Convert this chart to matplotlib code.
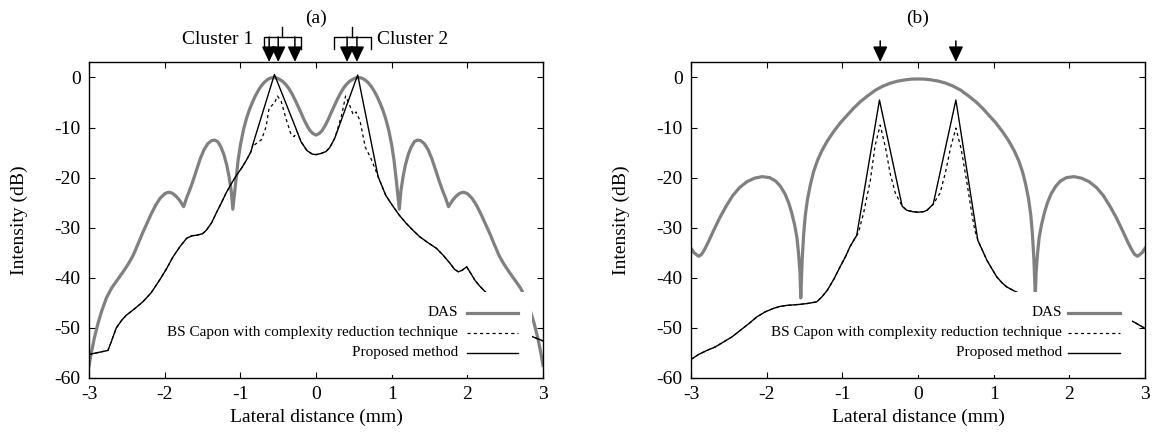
import matplotlib
matplotlib.use("Agg")
import matplotlib.pyplot as plt
from matplotlib.patches import Rectangle

plt.rcParams['font.family'] = ['Liberation Serif', 'DejaVu Serif']
plt.rcParams['font.size'] = 14
plt.rcParams['axes.unicode_minus'] = False

# ---- panel (a): two clusters of scatterers ----
das_a_x = [-3.0, -2.97, -2.93, -2.88, -2.83, -2.77, -2.7, -2.62, -2.55, -2.48, -2.42, -2.36,
           -2.3, -2.24, -2.18, -2.12, -2.06, -2.0, -1.95, -1.9, -1.85, -1.8, -1.75, -1.71,
           -1.67, -1.63, -1.58, -1.53, -1.48, -1.43, -1.38, -1.34, -1.3, -1.26, -1.22, -1.18,
           -1.15, -1.12, -1.1, -1.08, -1.06, -1.03, -1.0, -0.96, -0.92, -0.88, -0.84, -0.8,
           -0.76, -0.72, -0.68, -0.64, -0.6, -0.56, -0.52, -0.48, -0.44, -0.4, -0.36, -0.32,
           -0.28, -0.24, -0.2, -0.16, -0.12, -0.08, -0.04, 0.0,
           0.04, 0.08, 0.12, 0.16, 0.2, 0.24, 0.28, 0.32, 0.36, 0.4, 0.44, 0.48,
           0.52, 0.56, 0.6, 0.64, 0.68, 0.72, 0.76, 0.8, 0.84, 0.88, 0.92, 0.96,
           1.0, 1.03, 1.06, 1.08, 1.1, 1.12, 1.15, 1.18, 1.22, 1.26, 1.3, 1.34,
           1.38, 1.43, 1.48, 1.53, 1.58, 1.63, 1.67, 1.71, 1.75, 1.8, 1.85, 1.9,
           1.95, 2.0, 2.06, 2.12, 2.18, 2.24, 2.3, 2.36, 2.42, 2.48, 2.55, 2.62,
           2.7, 2.77, 2.83, 2.88, 2.93, 2.97, 3.0]
das_a_y = [-57.5, -55.0, -52.0, -49.0, -46.5, -44.0, -42.0, -40.3, -38.8, -37.2, -35.6, -33.5,
           -31.3, -29.3, -27.3, -25.5, -24.1, -23.2, -22.9, -23.1, -23.7, -24.6, -25.8, -24.0,
           -22.5, -20.8, -18.5, -16.2, -14.4, -13.2, -12.6, -12.5, -12.8, -13.8, -15.3, -17.5,
           -19.8, -22.8, -26.3, -23.5, -20.5, -16.5, -13.5, -10.5, -8.2, -6.4, -4.9, -3.6,
           -2.5, -1.6, -0.9, -0.4, -0.1, 0.0, -0.1, -0.4, -0.8, -1.4, -2.2, -3.2,
           -4.4, -5.7, -7.0, -8.4, -9.6, -10.6, -11.2, -11.5,
           -11.2, -10.6, -9.6, -8.4, -7.0, -5.7, -4.4, -3.2, -2.2, -1.4, -0.8, -0.4,
           -0.1, 0.0, -0.1, -0.4, -0.9, -1.6, -2.5, -3.6, -4.9, -6.4, -8.2, -10.5,
           -13.5, -16.5, -20.5, -23.5, -26.3, -22.8, -19.8, -17.5, -15.3, -13.8, -12.8, -12.5,
           -12.6, -13.2, -14.4, -16.2, -18.5, -20.8, -22.5, -24.0, -25.8, -24.6, -23.7, -23.1,
           -22.9, -23.2, -24.1, -25.5, -27.3, -29.3, -31.3, -33.5, -35.6, -37.2, -38.8, -40.3,
           -42.0, -44.0, -46.5, -49.0, -52.0, -55.0, -57.5]

prop_a_x = [-3.0, -2.75, -2.7, -2.64, -2.57, -2.51, -2.4, -2.29, -2.18, -2.07, -1.98, -1.89,
            -1.8, -1.71, -1.64, -1.58, -1.5, -1.45, -1.38, -1.32, -1.25, -1.19, -1.12, -1.05,
            -0.98, -0.92, -0.86, -0.83, -0.55, -0.25, -0.2, -0.12, -0.05, 0.0, 0.06, 0.13,
            0.18, 0.22, 0.25, 0.55, 0.82, 0.92, 1.02, 1.1, 1.19, 1.28, 1.37, 1.48, 1.59, 1.68,
            1.77, 1.83, 1.88, 1.93, 1.99, 2.04, 2.1, 2.16, 2.23, 2.35, 2.5, 2.65, 2.75, 2.85, 3.0]
prop_a_y = [-55.3, -54.5, -52.5, -50.0, -48.5, -47.5, -46.2, -44.8, -43.0, -40.5, -38.3, -35.8,
            -33.8, -32.1, -31.6, -31.5, -31.2, -30.5, -29.0, -27.1, -25.0, -23.1, -21.2, -19.5,
            -18.0, -16.5, -14.8, -13.1, 0.6, -10.8, -12.8, -14.6, -15.3, -15.4, -15.2, -14.8,
            -14.0, -12.9, -12.0, 0.5, -19.8, -23.5, -25.8, -27.5, -29.1, -30.5, -31.8, -33.0, -34.1, -35.5,
            -37.1, -38.3, -38.8, -38.5, -37.8, -39.0, -40.5, -41.6, -42.7, -44.5, -46.5, -48.8, -50.5, -51.7, -52.6]

capon_a_x = [-3.0, -2.75, -2.7, -2.64, -2.57, -2.51, -2.4, -2.29, -2.18, -2.07, -1.98, -1.89,
             -1.8, -1.71, -1.64, -1.58, -1.5, -1.45, -1.38, -1.32, -1.25, -1.19, -1.12, -1.05,
             -0.98, -0.92, -0.86, -0.83, -0.81, -0.72, -0.66, -0.62, -0.55, -0.51, -0.46, -0.4,
             -0.33, -0.29, -0.25, -0.2, -0.12, -0.05, 0.0, 0.06, 0.13, 0.18, 0.22, 0.25, 0.29,
             0.34, 0.39, 0.44, 0.49, 0.53, 0.58, 0.65, 0.72, 0.78, 0.82, 0.92, 1.02, 1.1, 1.19,
             1.28, 1.37, 1.48, 1.59, 1.68, 1.77, 1.83, 1.88, 1.93, 1.99, 2.04, 2.1, 2.16, 2.23,
             2.35, 2.5, 2.65, 2.75, 2.85, 3.0]
capon_a_y = [-55.3, -54.5, -52.5, -50.0, -48.5, -47.5, -46.2, -44.8, -43.0, -40.5, -38.3, -35.8,
             -33.8, -32.1, -31.6, -31.5, -31.2, -30.5, -29.0, -27.1, -25.0, -23.1, -21.2, -19.5,
             -18.0, -16.5, -14.8, -13.1, -13.4, -12.4, -9.8, -6.1, -5.1, -3.7, -4.8, -8.1,
             -11.4, -11.8, -10.8, -12.8, -14.6, -15.3, -15.4, -15.2, -14.8, -14.0, -12.9, -12.0, -10.0,
             -7.4, -3.7, -5.4, -7.4, -6.9, -8.6, -13.9, -16.0, -18.2, -19.8, -23.5, -25.8, -27.5, -29.1,
             -30.5, -31.8, -33.0, -34.1, -35.5, -37.1, -38.3, -38.8, -38.5, -37.8, -39.0, -40.5, -41.6, -42.7,
             -44.5, -46.5, -48.8, -50.5, -51.7, -52.6]

# ---- panel (b): two point targets ----
das_b_x = [-3.0, -2.96, -2.9, -2.86, -2.82, -2.77, -2.7, -2.62, -2.54, -2.45, -2.36, -2.26,
           -2.16, -2.06, -1.96, -1.88, -1.82, -1.76, -1.71, -1.67, -1.63, -1.6, -1.58, -1.56,
           -1.55, -1.53, -1.51, -1.49, -1.46, -1.42, -1.38, -1.33, -1.27, -1.2, -1.12, -1.03,
           -0.94, -0.85, -0.76, -0.66, -0.56, -0.46, -0.36, -0.26, -0.16, -0.08, 0.0,
           0.08, 0.16, 0.26, 0.36, 0.46, 0.56, 0.66, 0.76, 0.85, 0.94, 1.03, 1.12,
           1.2, 1.27, 1.33, 1.38, 1.42, 1.46, 1.49, 1.51, 1.53, 1.55, 1.56, 1.58,
           1.6, 1.63, 1.67, 1.71, 1.76, 1.82, 1.88, 1.96, 2.06, 2.16, 2.26, 2.36,
           2.45, 2.54, 2.62, 2.7, 2.77, 2.82, 2.86, 2.9, 2.96, 3.0]
das_b_y = [-34.1, -35.0, -35.7, -35.3, -34.3, -32.8, -30.5, -28.0, -25.8, -23.6, -22.0, -20.8,
           -20.1, -19.8, -20.0, -20.7, -21.7, -23.2, -25.0, -27.0, -29.5, -32.0, -35.0, -39.0,
           -44.0, -36.0, -31.0, -27.5, -24.2, -21.2, -18.8, -16.6, -14.6, -12.7, -10.9, -9.1,
           -7.6, -6.1, -4.8, -3.6, -2.5, -1.7, -1.1, -0.7, -0.45, -0.32, -0.3,
           -0.32, -0.45, -0.7, -1.1, -1.7, -2.5, -3.6, -4.8, -6.1, -7.6, -9.1, -10.9,
           -12.7, -14.6, -16.6, -18.8, -21.2, -24.2, -27.5, -31.0, -36.0, -43.5, -39.0, -35.0,
           -32.0, -29.5, -27.0, -25.0, -23.2, -21.7, -20.7, -20.0, -19.8, -20.1, -20.8, -22.0,
           -23.6, -25.8, -28.0, -30.5, -32.8, -34.3, -35.3, -35.7, -35.0, -34.1]

prop_b_x = [-3.0, -2.9, -2.79, -2.68, -2.57, -2.46, -2.35, -2.24, -2.13, -2.02, -1.91, -1.82,
            -1.73, -1.56, -1.45, -1.34, -1.27, -1.2, -1.11, -1.03, -0.96, -0.9, -0.81, -0.51,
            -0.21, -0.15, -0.07, 0.0, 0.07, 0.12, 0.2, 0.5, 0.79, 0.85, 0.91, 0.98, 1.04, 1.11,
            1.17, 1.28, 1.5, 1.8, 2.1, 2.4, 2.6, 2.75, 2.85, 3.0]
prop_b_y = [-56.3, -55.3, -54.5, -53.8, -52.8, -51.8, -50.5, -49.2, -47.8, -46.8, -46.1, -45.7,
            -45.5, -45.3, -45.1, -44.8, -43.8, -42.5, -40.2, -37.8, -35.8, -33.8, -31.5, -4.5,
            -25.7, -26.5, -26.8, -26.9, -26.8, -26.5, -25.3, -4.5, -32.5, -34.5, -36.5, -38.3, -39.8, -41.0,
            -41.8, -42.7, -44.3, -45.5, -46.0, -46.5, -47.2, -48.2, -48.8, -50.1]

capon_b_x = [-3.0, -2.9, -2.79, -2.68, -2.57, -2.46, -2.35, -2.24, -2.13, -2.02, -1.91, -1.82,
             -1.73, -1.56, -1.45, -1.34, -1.27, -1.2, -1.11, -1.03, -0.96, -0.9, -0.81, -0.79,
             -0.72, -0.63, -0.57, -0.5, -0.43, -0.37, -0.3, -0.21, -0.15, -0.07, 0.0, 0.07, 0.12,
             0.2, 0.29, 0.36, 0.43, 0.5, 0.57, 0.64, 0.71, 0.75, 0.79, 0.85, 0.91, 0.98, 1.04,
             1.11, 1.17, 1.28, 1.5, 1.8, 2.1, 2.4, 2.6, 2.75, 2.85, 3.0]
capon_b_y = [-56.3, -55.3, -54.5, -53.8, -52.8, -51.8, -50.5, -49.2, -47.8, -46.8, -46.1, -45.7,
             -45.5, -45.3, -45.1, -44.8, -43.8, -42.5, -40.2, -37.8, -35.8, -33.8, -31.5, -31.1,
             -27.1, -20.5, -13.8, -9.5, -14.0, -19.1, -23.1, -25.7, -26.5, -26.8, -26.9, -26.8, -26.5,
             -25.3, -23.1, -19.1, -14.0, -10.1, -14.3, -20.5, -27.1, -30.5, -32.5, -34.5, -36.5, -38.3, -39.8,
             -41.0, -41.8, -42.7, -44.3, -45.5, -46.0, -46.5, -47.2, -48.2, -48.8, -50.1]

# target positions marked by arrows above the plots
cluster1_x = [-0.62, -0.50, -0.28]
cluster2_x = [0.41, 0.54]
targets_b_x = [-0.5, 0.5]

legend_labels = ["DAS", "BS Capon with complexity reduction technique", "Proposed method"]

gray = "#808080"
dash = (0, (2.5, 2.5))
fig = plt.figure(figsize=(11.55, 4.41), dpi=100)
ax_a = fig.add_axes([0.0771, 0.1429, 0.3931, 0.7166])
ax_b = fig.add_axes([0.5983, 0.1429, 0.3931, 0.7166])

ax_a.plot(das_a_x, das_a_y, color=gray, lw=2.3, zorder=2)
ax_a.plot(capon_a_x, capon_a_y, color="black", lw=0.9, ls=dash, zorder=2)
ax_a.plot(prop_a_x, prop_a_y, color="black", lw=1.0, zorder=2)

ax_b.plot(das_b_x, das_b_y, color=gray, lw=2.3, zorder=2)
ax_b.plot(capon_b_x, capon_b_y, color="black", lw=0.9, ls=dash, zorder=2)
ax_b.plot(prop_b_x, prop_b_y, color="black", lw=1.0, zorder=2)


def draw_key(ax, box_left, box_right, text_right, line_x0, line_x1):
    # opaque key box, hides the curves running behind it
    ax.add_patch(Rectangle((box_left, -59.5), box_right - box_left, 16.7,
                           facecolor="white", edgecolor="none", zorder=3))
    rows = [-47, -51, -55]
    styles = [dict(color=gray, lw=2.3), dict(color="black", lw=0.9, ls=dash),
              dict(color="black", lw=1.0)]
    for label, row, st in zip(legend_labels, rows, styles):
        ax.text(text_right, row, label, ha="right", va="center", fontsize=11, zorder=4)
        ax.plot([line_x0, line_x1], [row, row], zorder=4, **st)


draw_key(ax_a, 1.0, 2.85, 1.88, 2.0, 2.67)
draw_key(ax_b, -0.3, 2.83, 1.90, 1.98, 2.67)

for ax, title in [(ax_a, "(a)"), (ax_b, "(b)")]:
    ax.set_xlim(-3, 3)
    ax.set_ylim(-60, 3.1)
    ax.set_xticks([-3, -2, -1, 0, 1, 2, 3])
    ax.set_yticks([0, -10, -20, -30, -40, -50, -60])
    ax.tick_params(direction="in", length=4, width=0.8, top=True, right=True, labelsize=14, pad=6)
    for sp in ax.spines.values():
        sp.set_linewidth(1.0)
    ax.set_xlabel("Lateral distance (mm)", fontsize=14, labelpad=4)
    ax.set_ylabel("Intensity (dB)", fontsize=14)
    ax.yaxis.set_label_coords(-0.135, 0.5)
    ax.text(0.5, 1.139, title, transform=ax.transAxes, ha="center", va="center", fontsize=14)

ytop = 3.1
arrow_kw = dict(arrowstyle="-|>,head_length=0.72,head_width=0.34", color="black", lw=1.1,
                shrinkA=0, shrinkB=0, mutation_scale=13)

# cluster brackets with hanging arrows in panel (a)
for xs, x0, x1, xc in [(cluster1_x, -0.69, -0.20, -0.45), (cluster2_x, 0.24, 0.73, 0.48)]:
    bar_y = ytop + 25 * 0.2
    hook_y = ytop + 13 * 0.2
    ax_a.plot([x0, x0, x1, x1], [hook_y, bar_y, bar_y, hook_y], color="black", lw=1.0,
              clip_on=False)
    ax_a.plot([xc, xc], [bar_y, bar_y + 10 * 0.2], color="black", lw=1.0, clip_on=False)
    for x in xs:
        ax_a.annotate("", xy=(x, ytop), xytext=(x, bar_y), arrowprops=arrow_kw,
                      annotation_clip=False)

ax_a.text(-0.83, ytop + 22 * 0.2, "Cluster 1", ha="right", va="center", fontsize=14)
ax_a.text(0.81, ytop + 22 * 0.2, "Cluster 2", ha="left", va="center", fontsize=14)

for x in targets_b_x:
    ax_b.annotate("", xy=(x, ytop), xytext=(x, ytop + 21 * 0.2), arrowprops=arrow_kw,
                  annotation_clip=False)

fig.savefig("out.png", dpi=100)
